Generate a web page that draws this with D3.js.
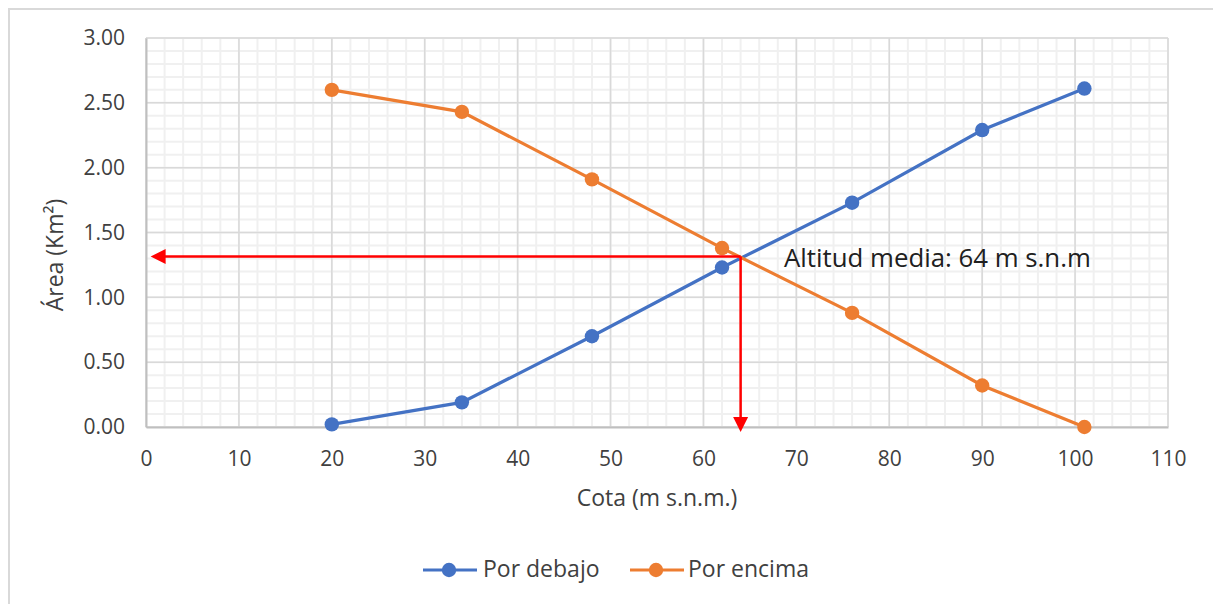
<!DOCTYPE html>
<html><head><meta charset="utf-8">
<script src="https://cdn.jsdelivr.net/npm/d3@7"></script>
<style>body{margin:0;background:#fff}svg{display:block}text{font-family:"Open Sans",sans-serif;fill:#404040}</style>
</head><body><svg id="c" width="1213" height="604"></svg>
<script>
const cota = [20, 34, 48, 62, 76, 90, 101];
const porDebajo = [0.02, 0.19, 0.70, 1.23, 1.73, 2.29, 2.61];
const porEncima = [2.60, 2.43, 1.91, 1.38, 0.88, 0.32, 0.00];
const xTicks = [0,10,20,30,40,50,60,70,80,90,100,110];
const yTicks = [0,0.5,1,1.5,2,2.5,3];
const meanAlt = 64, meanArea = 1.315;
const seriesNames = ["Por debajo", "Por encima"];
const colors = ["#4472C4", "#ED7D31"];
const annot = "Altitud media: 64 m s.n.m";

const svg = d3.select("#c");
const L=146, R=1168, T=38, B=427;
const x = d3.scaleLinear().domain([0,110]).range([L,R]);
const y = d3.scaleLinear().domain([0,3]).range([B,T]);

// outer border (left/top)
svg.append("path").attr("d","M9,604V9H1213").attr("fill","none").attr("stroke","#d9d9d9").attr("stroke-width",2);

// minor grid
const g = svg.append("g");
g.selectAll(".mx").data(d3.range(0,111,2)).join("line")
 .attr("x1",d=>x(d)).attr("x2",d=>x(d)).attr("y1",T).attr("y2",B)
 .attr("stroke","#f0f0f0").attr("stroke-width",2);
g.selectAll(".my").data(d3.range(0,31).map(i=>i/10)).join("line")
 .attr("y1",d=>y(d)).attr("y2",d=>y(d)).attr("x1",L).attr("x2",R)
 .attr("stroke","#f0f0f0").attr("stroke-width",2);
// major grid
g.selectAll(".Mx").data(xTicks).join("line")
 .attr("x1",d=>x(d)).attr("x2",d=>x(d)).attr("y1",T).attr("y2",B)
 .attr("stroke","#d9d9d9").attr("stroke-width",1.5);
g.selectAll(".My").data(yTicks).join("line")
 .attr("y1",d=>y(d)).attr("y2",d=>y(d)).attr("x1",L).attr("x2",R)
 .attr("stroke","#d9d9d9").attr("stroke-width",1.5);

// axes
const xa = svg.append("g").attr("transform",`translate(0,${B})`)
 .call(d3.axisBottom(x).tickValues(xTicks).tickSize(0).tickPadding(24).tickFormat(d3.format("d")));
xa.select(".domain").attr("stroke","#bfbfbf").attr("stroke-width",2);
const ya = svg.append("g").attr("transform",`translate(${L},0)`)
 .call(d3.axisLeft(y).tickValues(yTicks).tickSize(0).tickPadding(21).tickFormat(d3.format(".2f")));
ya.select(".domain").attr("stroke","#bfbfbf").attr("stroke-width",2);
svg.selectAll(".tick text").style("font-size","21px").attr("fill","#404040");

// axis titles
svg.append("text").attr("x",657).attr("y",506).attr("text-anchor","middle").style("font-size","23px").text("Cota (m s.n.m.)");
svg.append("text").attr("transform","translate(63,255) rotate(-90)").attr("text-anchor","middle").style("font-size","23px").text("Área (Km²)");

// series
const line = d3.line().x(d=>x(d[0])).y(d=>y(d[1]));
[porDebajo, porEncima].forEach((vals,i)=>{
  const pts = cota.map((c,j)=>[c,vals[j]]);
  svg.append("path").datum(pts).attr("d",line).attr("fill","none").attr("stroke",colors[i]).attr("stroke-width",3.2);
  svg.append("g").selectAll("circle").data(pts).join("circle")
   .attr("cx",d=>x(d[0])).attr("cy",d=>y(d[1])).attr("r",7.2).attr("fill",colors[i]);
});

// red arrows
const red = "#FF0000";
const ax = x(meanAlt), ay = y(meanArea);
svg.append("line").attr("x1",ax).attr("x2",x(0.5)+12).attr("y1",ay).attr("y2",ay).attr("stroke",red).attr("stroke-width",2.5);
svg.append("path").attr("d",`M${x(0.5)},${ay}l15,-7.5v15z`).attr("fill",red);
svg.append("line").attr("x1",ax).attr("x2",ax).attr("y1",ay).attr("y2",y(0)-8).attr("stroke",red).attr("stroke-width",2.5);
svg.append("path").attr("d",`M${ax},${y(0)+5}l-7.5,-15h15z`).attr("fill",red);

svg.append("text").attr("x",784).attr("y",267).style("font-size","25.8px").style("fill","#202020").text(annot);

// legend
const leg = [{x:423,t:483},{x:630,t:688}];
seriesNames.forEach((n,i)=>{
  const lg = svg.append("g");
  lg.append("line").attr("x1",leg[i].x).attr("x2",leg[i].x+54).attr("y1",570).attr("y2",570).attr("stroke",colors[i]).attr("stroke-width",3.2);
  lg.append("circle").attr("cx",leg[i].x+26).attr("cy",570).attr("r",7.2).attr("fill",colors[i]);
  lg.append("text").attr("x",leg[i].t).attr("y",577).style("font-size","23px").text(n);
});
</script></body></html>
